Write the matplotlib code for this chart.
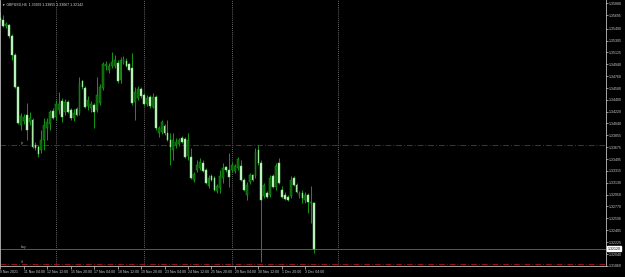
import numpy as np
import matplotlib
matplotlib.use("Agg")
import matplotlib.pyplot as plt

plt.rcParams["font.family"] = ["Liberation Sans", "DejaVu Sans"]

# GBPUSD H4 bars, 9 Nov 2021 20:00 .. 3 Dec 2021 16:00
opens = [1.3565, 1.3562, 1.3553, 1.3555, 1.3538, 1.3509, 1.3460, 1.3402, 1.3408, 1.3417,
         1.3406, 1.3409, 1.3371, 1.3368, 1.3363, 1.3379, 1.3397, 1.3403, 1.3423, 1.3414,
         1.3425, 1.3438, 1.3422, 1.3437, 1.3425, 1.3412, 1.3426, 1.3420, 1.3468, 1.3458,
         1.3431, 1.3428, 1.3432, 1.3425, 1.3435, 1.3458, 1.3492, 1.3486, 1.3492, 1.3492,
         1.3497, 1.3471, 1.3497, 1.3500, 1.3494, 1.3489, 1.3437, 1.3443, 1.3457, 1.3448,
         1.3434, 1.3445, 1.3429, 1.3445, 1.3390, 1.3391, 1.3400, 1.3390, 1.3379, 1.3363,
         1.3371, 1.3373, 1.3382, 1.3380, 1.3354, 1.3353, 1.3318, 1.3333, 1.3336, 1.3344,
         1.3333, 1.3308, 1.3324, 1.3321, 1.3301, 1.3305, 1.3321, 1.3337, 1.3333, 1.3333,
         1.3331, 1.3336, 1.3339, 1.3318, 1.3295, 1.3315, 1.3325, 1.3324, 1.3363, 1.3344,
         1.3293, 1.3298, 1.3295, 1.3324, 1.3307, 1.3344, 1.3302, 1.3295, 1.3292, 1.3293,
         1.3321, 1.3310, 1.3293, 1.3298, 1.3287, 1.3295, 1.3282, 1.3282]
highs = [1.3575, 1.3569, 1.3559, 1.3556, 1.3541, 1.3512, 1.3461, 1.3420, 1.3419, 1.3435,
         1.3422, 1.3412, 1.3376, 1.3371, 1.3394, 1.3412, 1.3412, 1.3425, 1.3428, 1.3440,
         1.3452, 1.3443, 1.3442, 1.3440, 1.3428, 1.3426, 1.3429, 1.3475, 1.3471, 1.3461,
         1.3446, 1.3438, 1.3435, 1.3475, 1.3464, 1.3498, 1.3500, 1.3497, 1.3513, 1.3509,
         1.3501, 1.3506, 1.3507, 1.3504, 1.3497, 1.3512, 1.3460, 1.3461, 1.3460, 1.3451,
         1.3448, 1.3448, 1.3451, 1.3448, 1.3400, 1.3409, 1.3403, 1.3409, 1.3390, 1.3390,
         1.3382, 1.3382, 1.3385, 1.3383, 1.3390, 1.3367, 1.3330, 1.3348, 1.3351, 1.3348,
         1.3336, 1.3325, 1.3327, 1.3324, 1.3311, 1.3333, 1.3344, 1.3339, 1.3359, 1.3345,
         1.3342, 1.3353, 1.3348, 1.3321, 1.3315, 1.3328, 1.3327, 1.3367, 1.3371, 1.3348,
         1.3313, 1.3301, 1.3325, 1.3327, 1.3344, 1.3351, 1.3308, 1.3299, 1.3295, 1.3324,
         1.3324, 1.3313, 1.3301, 1.3302, 1.3299, 1.3298, 1.3308, 1.3284]
lows = [1.3559, 1.3552, 1.3550, 1.3535, 1.3501, 1.3458, 1.3403, 1.3394, 1.3403, 1.3379,
        1.3402, 1.3367, 1.3363, 1.3353, 1.3359, 1.3363, 1.3379, 1.3394, 1.3411, 1.3409,
        1.3419, 1.3406, 1.3417, 1.3420, 1.3409, 1.3408, 1.3416, 1.3417, 1.3457, 1.3428,
        1.3425, 1.3422, 1.3397, 1.3422, 1.3432, 1.3455, 1.3486, 1.3481, 1.3489, 1.3489,
        1.3466, 1.3466, 1.3495, 1.3490, 1.3484, 1.3432, 1.3409, 1.3440, 1.3443, 1.3431,
        1.3431, 1.3428, 1.3428, 1.3394, 1.3383, 1.3388, 1.3386, 1.3377, 1.3341, 1.3348,
        1.3367, 1.3370, 1.3374, 1.3351, 1.3348, 1.3319, 1.3315, 1.3330, 1.3333, 1.3330,
        1.3311, 1.3305, 1.3316, 1.3301, 1.3298, 1.3298, 1.3313, 1.3330, 1.3307, 1.3330,
        1.3328, 1.3333, 1.3316, 1.3301, 1.3287, 1.3311, 1.3316, 1.3321, 1.3341, 1.3192,
        1.3290, 1.3290, 1.3292, 1.3305, 1.3302, 1.3311, 1.3290, 1.3287, 1.3285, 1.3290,
        1.3308, 1.3298, 1.3290, 1.3282, 1.3282, 1.3267, 1.3252, 1.3206]
closes = [1.3562, 1.3553, 1.3556, 1.3538, 1.3509, 1.3460, 1.3405, 1.3416, 1.3414, 1.3394,
          1.3412, 1.3368, 1.3367, 1.3357, 1.3379, 1.3402, 1.3406, 1.3422, 1.3412, 1.3434,
          1.3434, 1.3414, 1.3437, 1.3422, 1.3412, 1.3420, 1.3417, 1.3466, 1.3460, 1.3429,
          1.3440, 1.3434, 1.3422, 1.3448, 1.3460, 1.3494, 1.3495, 1.3492, 1.3498, 1.3501,
          1.3468, 1.3501, 1.3503, 1.3492, 1.3486, 1.3435, 1.3452, 1.3457, 1.3446, 1.3434,
          1.3443, 1.3431, 1.3445, 1.3397, 1.3397, 1.3406, 1.3390, 1.3379, 1.3368, 1.3379,
          1.3376, 1.3379, 1.3376, 1.3353, 1.3379, 1.3321, 1.3327, 1.3341, 1.3345, 1.3331,
          1.3313, 1.3321, 1.3318, 1.3302, 1.3308, 1.3324, 1.3336, 1.3333, 1.3322, 1.3341,
          1.3339, 1.3350, 1.3318, 1.3302, 1.3310, 1.3325, 1.3318, 1.3360, 1.3344, 1.3287,
          1.3310, 1.3292, 1.3321, 1.3307, 1.3339, 1.3313, 1.3292, 1.3289, 1.3287, 1.3318,
          1.3310, 1.3299, 1.3298, 1.3290, 1.3295, 1.3284, 1.3284, 1.3212]

# time axis labels (bar index, text)
xtick_bars = [0, 8, 16, 24, 32, 40, 48, 56, 64, 72, 80, 88, 96, 104]
xtick_text = ["9 Nov 2021", "11 Nov 04:00", "12 Nov 12:00", "15 Nov 20:00", "17 Nov 04:00",
              "18 Nov 12:00", "19 Nov 20:00", "23 Nov 04:00", "24 Nov 12:00", "25 Nov 20:00",
              "29 Nov 04:00", "30 Nov 12:00", "1 Dec 20:00", "3 Dec 04:00"]
separator_bars = [19, 49, 79, 115]

ytick_text = ["1.35880", "1.35695", "1.35490", "1.35305", "1.35125", "1.34940", "1.34760",
              "1.34580", "1.34400", "1.34220", "1.34040", "1.33855", "1.33675", "1.33495",
              "1.33315", "1.33130", "1.32950", "1.32770", "1.32590", "1.32405", "1.32225",
              "1.32040", "1.31860"]

tp_price = 1.3371
buy_price = 1.3212
sl_price = 1.3189
bid_text = "1.32120"
header = "\u25bc GBPUSD,H4  1.33669 1.33855 1.33067 1.32142"

fig = plt.figure(figsize=(6.25, 2.77), dpi=100, facecolor="black")
ax = fig.add_axes([0.0, 0.0397, 0.9696, 0.9603])
ax.set_facecolor("black")

o = np.array(opens)
h = np.array(highs)
l = np.array(lows)
c = np.array(closes)
idx = np.arange(len(o))
up = c >= o

ax.vlines(idx, l, h, color="#119a11", lw=0.7, zorder=2)
body_lo = np.minimum(o, c)
body_h = np.maximum(np.abs(c - o), 0.00004)
ax.bar(idx[up], body_h[up], bottom=body_lo[up], width=0.62,
       color="#0d5f0d", edgecolor="#14a014", lw=0.35, zorder=3)
ax.bar(idx[~up], body_h[~up], bottom=body_lo[~up], width=0.62,
       color="#d2f7d2", edgecolor="#78dc78", lw=0.35, zorder=3)

# period separators
for b in separator_bars:
    ax.axvline(b, color="#8a8a8a", lw=0.6, ls=(0, (1, 1.5)), zorder=1)

# order lines
ax.axhline(tp_price, color="#9b1212", lw=0.7, ls=(0, (6, 2, 1, 2)), zorder=1)
ax.axhline(sl_price, color="#9b1212", lw=0.7, ls=(0, (6, 2, 1, 2)), zorder=1)
ax.axhline(buy_price, color="#2a7a2a", lw=0.7, zorder=1)
ax.text(7, tp_price, "tp", color="#aaaaaa", fontsize=2.5, va="bottom", ha="left")
ax.text(7, buy_price, "buy", color="#aaaaaa", fontsize=2.5, va="bottom", ha="left")
ax.text(7, sl_price, "sl", color="#aaaaaa", fontsize=2.5, va="bottom", ha="left")

ax.set_xlim(-0.1, 206.5)
ax.set_ylim(1.31859, 1.35926)

ax.yaxis.tick_right()
ax.set_yticks([float(t) for t in ytick_text])
ax.set_yticklabels(ytick_text)
ax.tick_params(axis="y", colors="#cfcfcf", labelsize=2.5, length=1.5, width=0.5, pad=0.8)
ax.set_xticks(xtick_bars)
ax.set_xticklabels(xtick_text, ha="left")
ax.tick_params(axis="x", colors="#cfcfcf", labelsize=2.5, length=2, width=0.5, pad=1.2)

for side in ["left", "right", "bottom"]:
    ax.spines[side].set_color("#bdbdbd")
    ax.spines[side].set_linewidth(0.6)
ax.spines["top"].set_visible(False)

# current bid box on the price scale
ax.annotate(bid_text, xy=(1.0, buy_price), xycoords=("axes fraction", "data"),
            xytext=(1.2, 0), textcoords="offset points", va="center", ha="left",
            fontsize=2.5, color="black",
            bbox=dict(boxstyle="square,pad=0.15", fc="white", ec="white"), annotation_clip=False)

ax.text(0.004, 0.992, header, transform=ax.transAxes, color="#dddddd", fontsize=2.5,
        va="top", ha="left")

fig.savefig("out.png", dpi=100, facecolor="black")
